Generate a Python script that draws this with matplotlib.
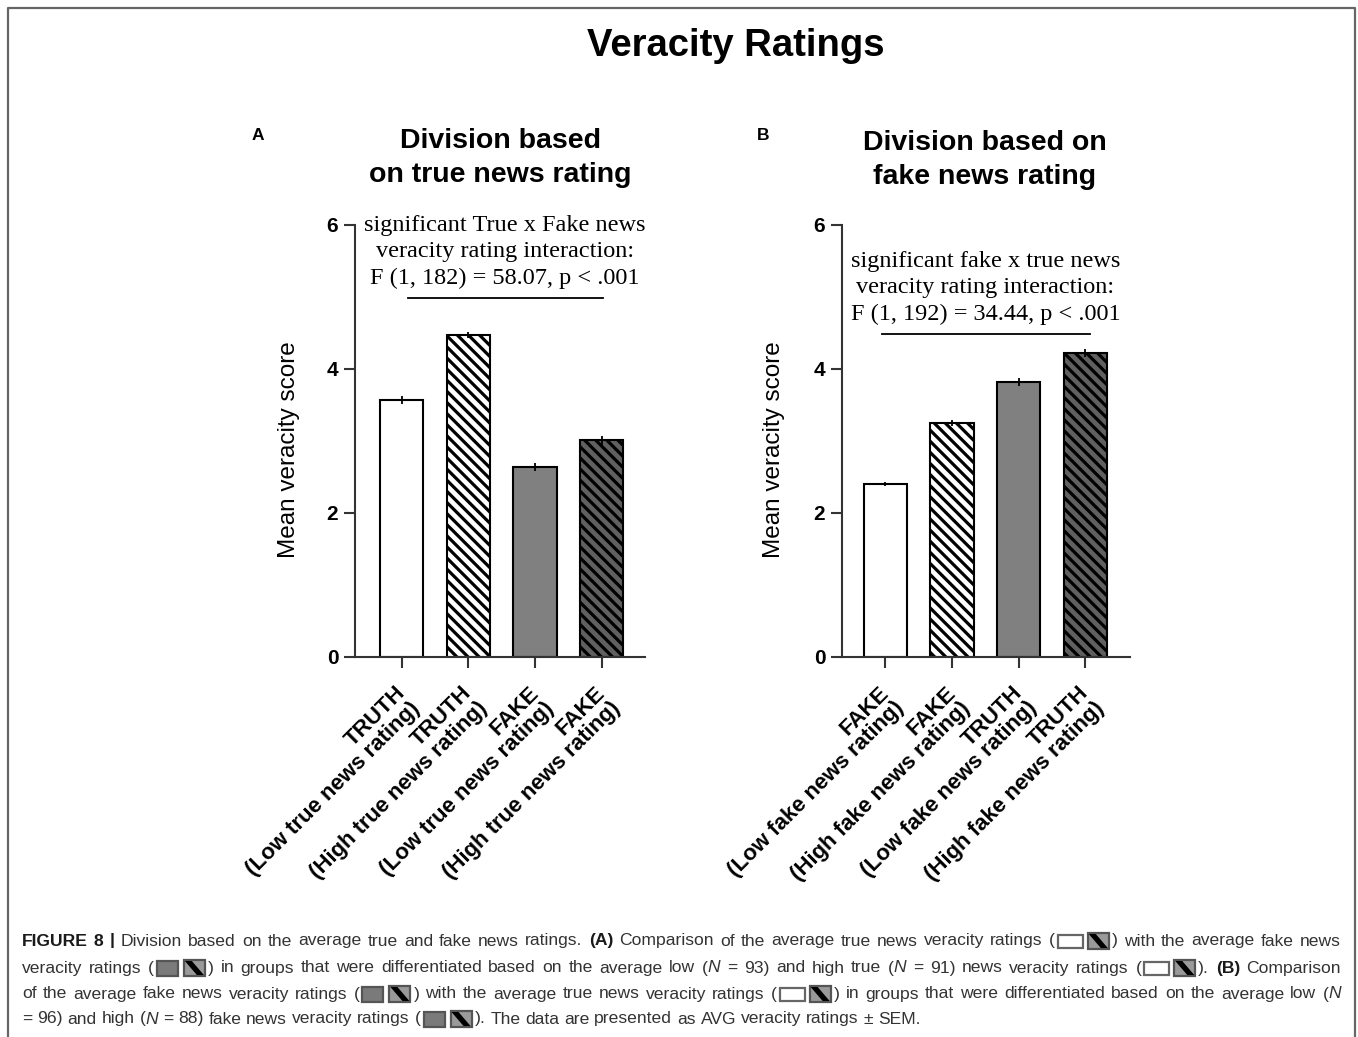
import matplotlib
matplotlib.use("Agg")
import matplotlib.pyplot as plt
import matplotlib.transforms as mtransforms
from matplotlib.patches import Rectangle, Polygon

# ---- data ----
labels_a = ["TRUTH\n(Low true news rating)", "TRUTH\n(High true news rating)",
            "FAKE\n(Low true news rating)", "FAKE\n(High true news rating)"]
means_a = [3.57, 4.47, 2.64, 3.01]
sem_a = [0.05, 0.04, 0.06, 0.06]

labels_b = ["FAKE\n(Low fake news rating)", "FAKE\n(High fake news rating)",
            "TRUTH\n(Low fake news rating)", "TRUTH\n(High fake news rating)"]
means_b = [2.40, 3.25, 3.82, 4.22]
sem_b = [0.03, 0.04, 0.05, 0.06]

bar_colors = ["white", "white", "#808080", "#606060"]
bar_hatches = [None, "\\\\\\", None, "\\\\\\"]

note_a = "significant True x Fake news\nveracity rating interaction:\nF (1, 182) = 58.07, p < .001"
note_b = "significant fake x true news\nveracity rating interaction:\nF (1, 192) = 34.44, p < .001"

W, H = 1358, 1037
plt.rcParams["font.family"] = ["Liberation Sans", "DejaVu Sans"]
plt.rcParams["hatch.linewidth"] = 2.3

fig = plt.figure(figsize=(W / 100, H / 100), dpi=100)

# overlay in pixel coordinates for border, titles and caption
ov = fig.add_axes([0, 0, 1, 1])
ov.set_xlim(0, W)
ov.set_ylim(H, 0)
ov.axis("off")
ov.set_zorder(-1)


def panel(left_px, right_px, labels, means, sems, note, note_x, note_y, line_y, line_x, ylab_x):
    ax = fig.add_axes([left_px / W, 1 - 657 / H, (right_px - left_px) / W, (657 - 225) / H])
    x = range(len(means))
    ax.bar(x, means, width=0.65, color=bar_colors, edgecolor="black", linewidth=1.5,
           hatch=bar_hatches, zorder=2)
    ax.errorbar(x, means, yerr=sems, fmt="none", ecolor="black", elinewidth=1.3,
                capsize=0, zorder=3)
    ax.set_ylim(0, 6)
    ax.set_yticks([0, 2, 4, 6])
    ax.set_xticks(list(x))
    for s in ["top", "right"]:
        ax.spines[s].set_visible(False)
    for s in ["left", "bottom"]:
        ax.spines[s].set_linewidth(1.5)
        ax.spines[s].set_color("#333333")
    ax.tick_params(axis="both", length=8, width=1.5, color="#333333", pad=4)
    ax.set_xticklabels(labels, rotation=45, ha="right", rotation_mode="anchor",
                       fontsize=16, fontweight="bold", linespacing=1.0, multialignment="right")
    shift = mtransforms.ScaledTranslation(-0.07, -0.09, fig.dpi_scale_trans)
    for t in ax.get_xticklabels():
        t.set_transform(t.get_transform() + shift)
    for t in ax.get_yticklabels():
        t.set_fontweight("bold")
        t.set_fontsize(15)
    ax.set_ylabel("Mean veracity score", fontsize=17.5)
    ax.yaxis.set_label_coords(ylab_x, 0.479)
    ax.text(note_x, note_y, note, ha="center", va="baseline",
            family=["Liberation Serif", "DejaVu Serif"], fontsize=17.5, linespacing=1.35,
            clip_on=False)
    ax.plot(line_x, [line_y, line_y], color="black", lw=1.3, clip_on=False)
    return ax


ax_a = panel(355, 645, labels_a, means_a, sem_a, note_a, 1.55, 5.18, 4.99, [0.095, 3.02], -0.19)
ax_a.set_xlim(-0.70, 3.65)
ax_b = panel(842, 1130, labels_b, means_b, sem_b, note_b, 1.50, 4.68, 4.49, [-0.05, 3.07], -0.198)
ax_b.set_xlim(-0.65, 3.67)

# titles
ov.text(736, 46, "Veracity Ratings", ha="center", va="center", fontsize=27.5, fontweight="bold")
ov.text(500, 158, "Division based\non true news rating", ha="center", va="center",
        fontsize=20.5, fontweight="bold", linespacing=1.4)
ov.text(985, 160, "Division based on\nfake news rating", ha="center", va="center",
        fontsize=20.5, fontweight="bold", linespacing=1.4)
ov.text(258, 136, "A", ha="center", va="center", fontsize=12.5, fontweight="bold")
ov.text(763, 136, "B", ha="center", va="center", fontsize=12.5, fontweight="bold")

# border
ov.plot([8, 8, 1355, 1355], [H + 5, 8, 8, H + 5], color="#666666", lw=1.6, clip_on=False)

# ---- caption ----
renderer = fig.canvas.get_renderer()
cap_size = 12.6
cap_color = "#333333"

cap_lines = [
    [("b", "FIGURE 8 |"), ("n", "Division based on the average true and fake news ratings."), ("b", "(A)"),
     ("n", "Comparison of the average true news veracity ratings ("), ("iw", ""), ("ih", ""),
     ("n", ") with the average fake news")],
    [("n", "veracity ratings ("), ("ig", ""), ("ih", ""),
     ("n", ") in groups that were differentiated based on the average low ("), ("i", "N"),
     ("n", "= 93) and high true ("), ("i", "N"), ("n", "= 91) news veracity ratings ("),
     ("iw", ""), ("ih", ""), ("n", ")."), ("b", "(B)"), ("n", "Comparison")],
    [("n", "of the average fake news veracity ratings ("), ("ig", ""), ("ih", ""),
     ("n", ") with the average true news veracity ratings ("), ("iw", ""), ("ih", ""),
     ("n", ") in groups that were differentiated based on the average low ("), ("i", "N")],
    [("n", "= 96) and high ("), ("i", "N"), ("n", "= 88) fake news veracity ratings ("),
     ("ig", ""), ("ih", ""), ("n", "). The data are presented as AVG veracity ratings \u00b1 SEM.")],
]
line_ys = [941, 968, 994, 1019]
x0, x1 = 22, 1341
icon_w = {"iw": 30, "ig": 27, "ih": 27}


def tokens(line):
    # split segments into words and icons; flag says whether a space precedes the token
    out = []
    for kind, txt in line:
        if kind in icon_w:
            out.append((kind, "", False))
            continue
        parts = txt.split(" ")
        for j, p in enumerate(parts):
            if p == "":
                continue
            sb = True
            if not out:
                sb = False
            elif j == 0:
                prev_kind, prev_txt, _ = out[-1]
                if prev_kind not in icon_w and prev_txt.endswith("("):
                    sb = False
                if prev_kind in icon_w and p[:1] == ")":
                    sb = False
            out.append((kind, p, sb))
    return out


def measure(kind, txt):
    if kind in icon_w:
        return icon_w[kind]
    t = ov.text(0, 0, txt, fontsize=cap_size, fontweight="bold" if kind == "b" else "normal",
                fontstyle="italic" if kind == "i" else "normal")
    w = t.get_window_extent(renderer).width
    t.remove()
    return w


space_w = measure("n", "a a") - measure("n", "aa")
for li, line in enumerate(cap_lines):
    toks = tokens(line)
    widths = [measure(k, t) for k, t, _ in toks]
    gaps = [space_w if sb else 0 for _, _, sb in toks]
    n_sp = sum(1 for g in gaps if g > 0)
    natural = sum(widths) + sum(gaps)
    extra = 0
    if li < len(cap_lines) - 1 and n_sp:
        extra = (x1 - x0 - natural) / n_sp
    x = x0
    y = line_ys[li]
    for (kind, txt, sb), w, g in zip(toks, widths, gaps):
        if g > 0:
            x += g + extra
        if kind == "iw":
            ov.add_patch(Rectangle((x + 3, y - 6), 25, 13, facecolor="white", edgecolor="#666666", lw=1.6))
        elif kind == "ig":
            ov.add_patch(Rectangle((x + 3, y - 7), 21, 15, facecolor="#7a7a7a", edgecolor="#555555", lw=1.6))
        elif kind == "ih":
            ov.add_patch(Rectangle((x + 3, y - 8), 21, 16, facecolor="#9a9a9a", edgecolor="#555555", lw=1.6))
            ov.add_patch(Polygon([(x + 4, y - 7), (x + 11, y - 7), (x + 23, y + 7), (x + 16, y + 7)],
                                 closed=True, facecolor="black", edgecolor="none"))
        else:
            ov.text(x, y, txt, ha="left", va="center", fontsize=cap_size,
                    color="#1a1a1a" if kind == "b" else cap_color,
                    fontweight="bold" if kind == "b" else "normal",
                    fontstyle="italic" if kind == "i" else "normal")
        x += w

fig.savefig("out.png", dpi=100)
